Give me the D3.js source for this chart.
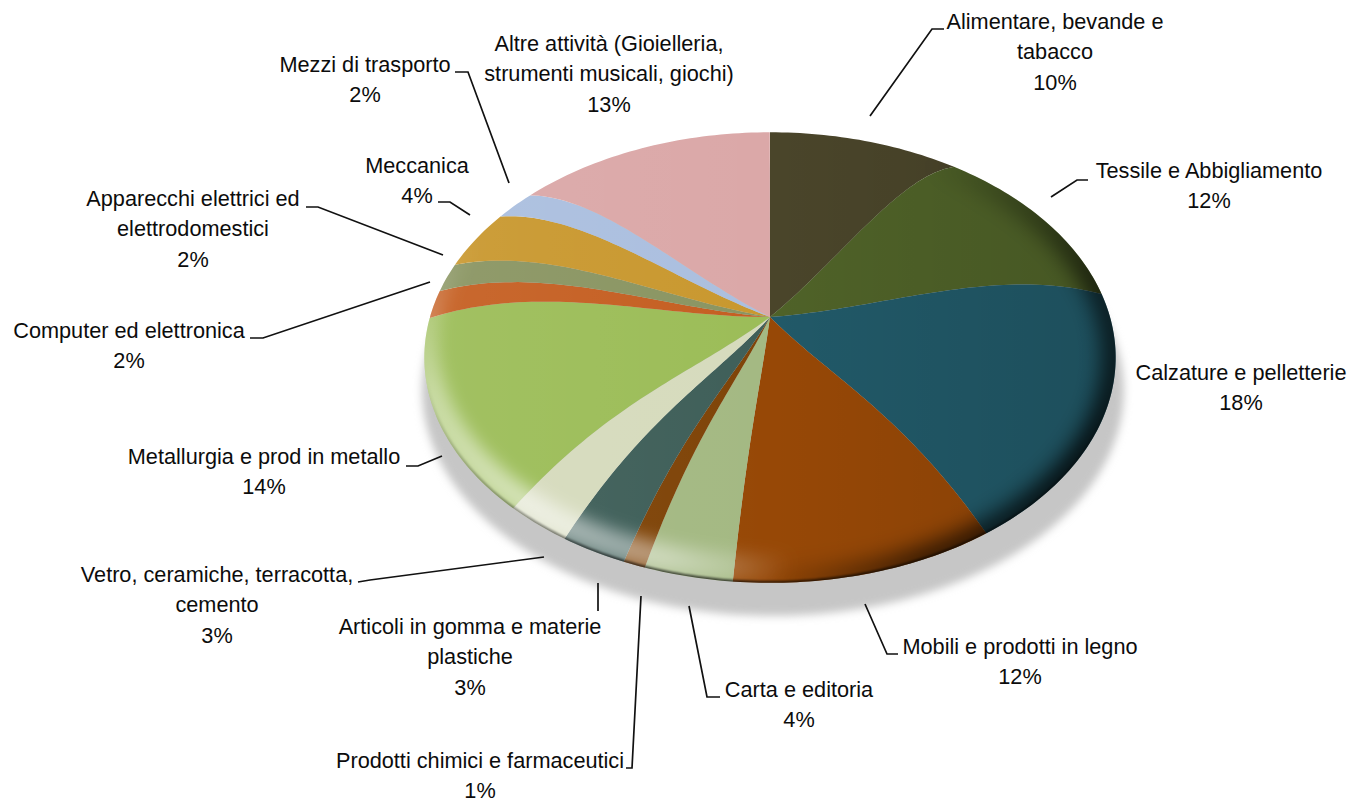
<!DOCTYPE html>
<html><head><meta charset="utf-8">
<style>html,body{margin:0;padding:0;background:#fff;overflow:hidden}svg{display:block}
text{font-family:"Liberation Sans",Arial,sans-serif;font-size:21.7px;fill:#0c0c0c}</style>
<script src="https://cdn.jsdelivr.net/npm/d3@7/dist/d3.min.js"></script>
</head><body><svg id="c" width="1351" height="799"></svg>
<script>
const categories = ["Alimentare, bevande e|tabacco","Tessile e Abbigliamento","Calzature e pelletterie","Mobili e prodotti in legno","Carta e editoria","Prodotti chimici e farmaceutici","Articoli in gomma e materie|plastiche","Vetro, ceramiche, terracotta,|cemento","Metallurgia e prod in metallo","Computer ed elettronica","Apparecchi elettrici ed|elettrodomestici","Meccanica","Mezzi di trasporto","Altre attività (Gioielleria,|strumenti musicali, giochi)"];
const shares = [10,12,18,12,4,1,3,3,14,2,2,4,2,13];
const colours = ["#4a452a","#4f6228","#215968","#974806","#a4b983","#7f4408","#3f5f59","#d6dbbd","#9cbd58","#c55f22","#8a9562","#c9982f","#abbfdf","#dba8a8"];
const labelCentres = [[1055,29],[1209,178],[1241,380],[1020,654],[799,697],[480,768],[470,634],[217,582],[264,464],[129,338],[193,206],[417,173],[365,72],[609,51]];
const leaders = [
 [[870,116],[932,29],[944,29]],[[1051,197],[1077,180],[1088,180]],[],[[865,604],[887,654],[898,654]],
 [[689,606],[707,697],[720,697]],[[641,596],[632,768],[626,768]],[[598,583],[598,611]],[[544,557],[370,580],[358,582]],
 [[442,456],[418,466],[406,466]],[[430,282],[263,338],[250,338]],[[443,255],[318,207],[306,207]],[[470,215],[450,202],[438,202]],
 [[509,183],[468,72],[455,72]],[]];

const svg=d3.select("#c");
const cx=770,cy=317,R=340,S=218,K=0.18,DOME=16;
const TAU=Math.PI*2;
// perspective projection of the tilted domed disc (r in 0..1, t = clockwise angle from top)
function warp(t){const p=t/TAU,d=1.55*Math.sin(t)-0.3*Math.sin(2*t)-0.15*(1-Math.cos(t))-0.65*Math.exp(-Math.pow((p-0.82)/0.09,2));return t+d/100*TAU;}
function proj(r,t){const a=warp(t),u=r*Math.sin(a),v=-r*Math.cos(a),w=1-K*v;
  const dome=DOME*6.75*r*r*(1-r);
  return [cx+R*u/w, cy+S*v/w-dome];}
const line=d3.line();
const pie=d3.pie().sort(null).value(d=>d)(shares);
const rs=d3.range(0,1.0001,0.02);
function slicePath(d){
  const n=Math.max(4,Math.ceil((d.endAngle-d.startAngle)/0.02));
  const arc=d3.range(n+1).map(i=>proj(1,d.startAngle+(d.endAngle-d.startAngle)*i/n));
  const a=rs.map(r=>proj(r,d.startAngle));
  const b=rs.slice().reverse().map(r=>proj(r,d.endAngle));
  return line(a.concat(arc,b))+"Z";
}
const rimPts=d3.range(0,361).map(i=>proj(1,i/360*TAU));
const rim=line(rimPts)+"Z";
const defs=svg.append("defs");
function blur(id,s){defs.append("filter").attr("id",id).attr("x","-20%").attr("y","-20%").attr("width","140%").attr("height","140%")
  .append("feGaussianBlur").attr("stdDeviation",s);}
blur("b1",1.2);blur("b4",4);blur("b8",8);blur("b11",11);
defs.append("clipPath").attr("id","rimClip").append("path").attr("d",rim);
function radial(id,x,y,r,col,stops){const g=defs.append("radialGradient").attr("id",id).attr("gradientUnits","userSpaceOnUse").attr("cx",x).attr("cy",y).attr("r",r);
  stops.forEach(s=>g.append("stop").attr("offset",s[0]).attr("stop-color",col).attr("stop-opacity",s[1]));}
function linear(id,x1,y1,x2,y2,stops){const g=defs.append("linearGradient").attr("id",id).attr("gradientUnits","userSpaceOnUse").attr("x1",x1).attr("y1",y1).attr("x2",x2).attr("y2",y2);
  stops.forEach(s=>g.append("stop").attr("offset",s[0]).attr("stop-color",s[1]).attr("stop-opacity",s[2]));}
radial("gLight",535,510,265,"#fff",[[0,.55],[.55,.42],[1,0]]);
radial("gDark",1095,470,350,"#000",[[0,.95],[.55,.7],[1,0]]);
linear("gRimLine",0,380,0,583,[[0,"#000",0],[.55,"#000",.3],[1,"#000",.65]]);
linear("gTone",424,0,1116,0,[[0,"#fff",.06],[.5,"#fff",0],[.5,"#000",0],[1,"#000",.12]]);

// shadow
svg.append("path").attr("d",rim).attr("fill","#c6c6c6").attr("filter","url(#b4)")
  .attr("transform",`translate(${cx+3},${cy+33}) scale(1.015,1) translate(${-cx},${-cy})`);
// slices
svg.append("g").selectAll("path").data(pie).join("path").attr("d",slicePath).attr("fill",(d,i)=>colours[i]);
// shading
const shade=svg.append("g").attr("clip-path","url(#rimClip)");
shade.append("rect").attr("x",420).attr("y",125).attr("width",700).attr("height",470).attr("fill","url(#gTone)");
shade.append("path").attr("d",rim).attr("fill","none").attr("stroke","url(#gLight)").attr("stroke-width",28).attr("filter","url(#b8)")
  .attr("transform",`translate(0,-14)`);
shade.append("path").attr("d",rim).attr("fill","none").attr("stroke","url(#gDark)").attr("stroke-width",24).attr("filter","url(#b11)");
shade.append("path").attr("d",rim).attr("fill","none").attr("stroke","url(#gRimLine)").attr("stroke-width",4).attr("filter","url(#b1)");
// leaders
svg.append("g").selectAll("path").data(leaders.filter(l=>l.length)).join("path").attr("d",d=>line(d))
  .attr("fill","none").attr("stroke","#111").attr("stroke-width",1.7);
// labels
const lab=svg.append("g").selectAll("text").data(categories).join("text").attr("text-anchor","middle")
  .attr("transform",(d,i)=>`translate(${labelCentres[i][0]},${labelCentres[i][1]})`);
lab.each(function(d,i){const t=d3.select(this);
  d.split("|").concat(d3.format("d")(shares[i])+"%").forEach((s,j)=>t.append("tspan").attr("x",0).attr("y",j*30.3).text(s));});
</script></body></html>
